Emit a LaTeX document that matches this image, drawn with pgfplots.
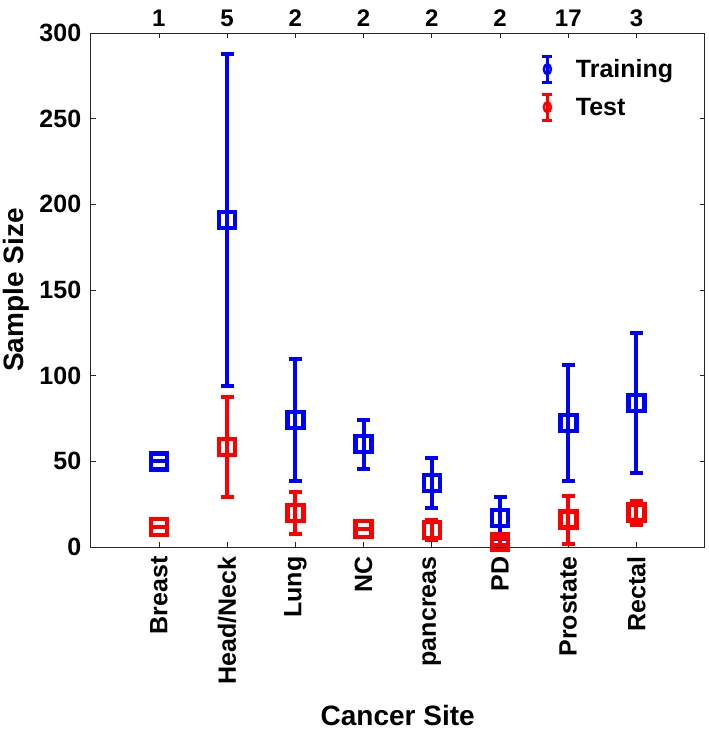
\documentclass[border=0pt]{standalone}
\usepackage{fontspec}
\setmainfont{Liberation Sans}
\usepackage{pgfplots}
\pgfplotsset{compat=1.18}

% mean and spread per cancer site (x = 1..8)
\begin{document}
\begin{tikzpicture}
\begin{axis}[
  name=main,
  scale only axis,
  width=614pt, height=514pt,
  xmin=0, xmax=9, ymin=0, ymax=300,
  xtick={1,...,8},
  xticklabels={Breast,Head/Neck,Lung,NC,pancreas,PD,Prostate,Rectal},
  ytick={0,50,...,300},
  /pgf/number format/assume math mode=true,
  tick align=inside,
  major tick length=5pt,
  axis line style={line width=0.8pt, black!85},
  tick style={line width=0.8pt, black!85},
  x tick label style={rotate=90, anchor=east, xshift=-6pt, font=\fontsize{25}{30}\selectfont\bfseries},
  y tick label style={xshift=-6pt, font=\fontsize{25}{30}\selectfont\bfseries},
  xlabel={Cancer Site},
  ylabel={Sample Size},
  label style={font=\fontsize{28}{34}\selectfont\bfseries},
  xlabel style={at={(axis description cs:0.5,-0.348)}, anchor=base},
  ylabel style={at={(axis description cs:-0.110,0.5)}, anchor=base, rotate=0},
  legend style={draw=none, fill=none, at={(axis description cs:0.728,0.962)},
    anchor=north west, font=\fontsize{25}{30}\selectfont\bfseries,
    row sep=9pt, legend cell align=left,
    /tikz/every odd column/.append style={column sep=20pt}},
]
\addlegendimage{legend image code/.code={
  \draw[blue, line width=3pt] (0pt,-13pt) -- (0pt,13pt);
  \draw[blue, line width=3pt] (-5pt,-13pt) -- (5pt,-13pt);
  \draw[blue, line width=3pt] (-5pt,13pt) -- (5pt,13pt);
  \draw[blue, line width=2.5pt] (0pt,0pt) ellipse (3.5pt and 5pt);}}
\addlegendimage{legend image code/.code={
  \draw[red, line width=3pt] (0pt,-13pt) -- (0pt,13pt);
  \draw[red, line width=3pt] (-5pt,-13pt) -- (5pt,-13pt);
  \draw[red, line width=3pt] (-5pt,13pt) -- (5pt,13pt);
  \draw[red, line width=2.5pt] (0pt,0pt) ellipse (3.5pt and 5pt);}}
\addplot[only marks, color=blue, mark=square, mark size=8pt,
  mark options={line width=4.5pt, solid, rounded corners=3.5pt},
  error bars/.cd, y dir=both, y explicit,
  error bar style={line width=4pt, blue},
  error mark=|, error mark options={line width=4pt, mark size=6.5pt, blue, sharp corners},
  ] table[x=x, y=y, y error=e] {
  x y e
  1 50 0
  2 191 97
  3 74 35.6
  4 60 14.3
  5 37.3 14.6
  6 17 12.2
  7 72.4 33.8
  8 84 41
};
\addplot[only marks, color=red, mark=square, mark size=8pt,
  mark options={line width=4.5pt, solid, rounded corners=3.5pt},
  error bars/.cd, y dir=both, y explicit,
  error bar style={line width=4pt, red},
  error mark=|, error mark options={line width=4pt, mark size=6.5pt, red, sharp corners},
  ] table[x=x, y=y, y error=e] {
  x y e
  1 11.7 0
  2 58.4 29
  3 19.8 12.3
  4 10.5 0
  5 10 6
  6 3 2
  7 16 14
  8 20 7
};
\legend{Training,Test}
\end{axis}
% top axis: number of studies per site
\begin{axis}[
  at={(main.south west)}, anchor=south west,
  scale only axis,
  width=614pt, height=514pt,
  xmin=0, xmax=9, ymin=0, ymax=300,
  axis x line*=top, hide y axis,
  x axis line style={draw=none},
  xtick={1,...,8},
  xticklabels={1,5,2,2,2,2,17,3},
  xtick style={draw=none},
  x tick label style={yshift=3pt, font=\fontsize{24}{29}\selectfont\bfseries},
]
\end{axis}
\pgfresetboundingbox
\path[use as bounding box] (main.south west) ++(-90.7pt,-185pt) rectangle ++(709pt,732pt);
\end{tikzpicture}
\end{document}
